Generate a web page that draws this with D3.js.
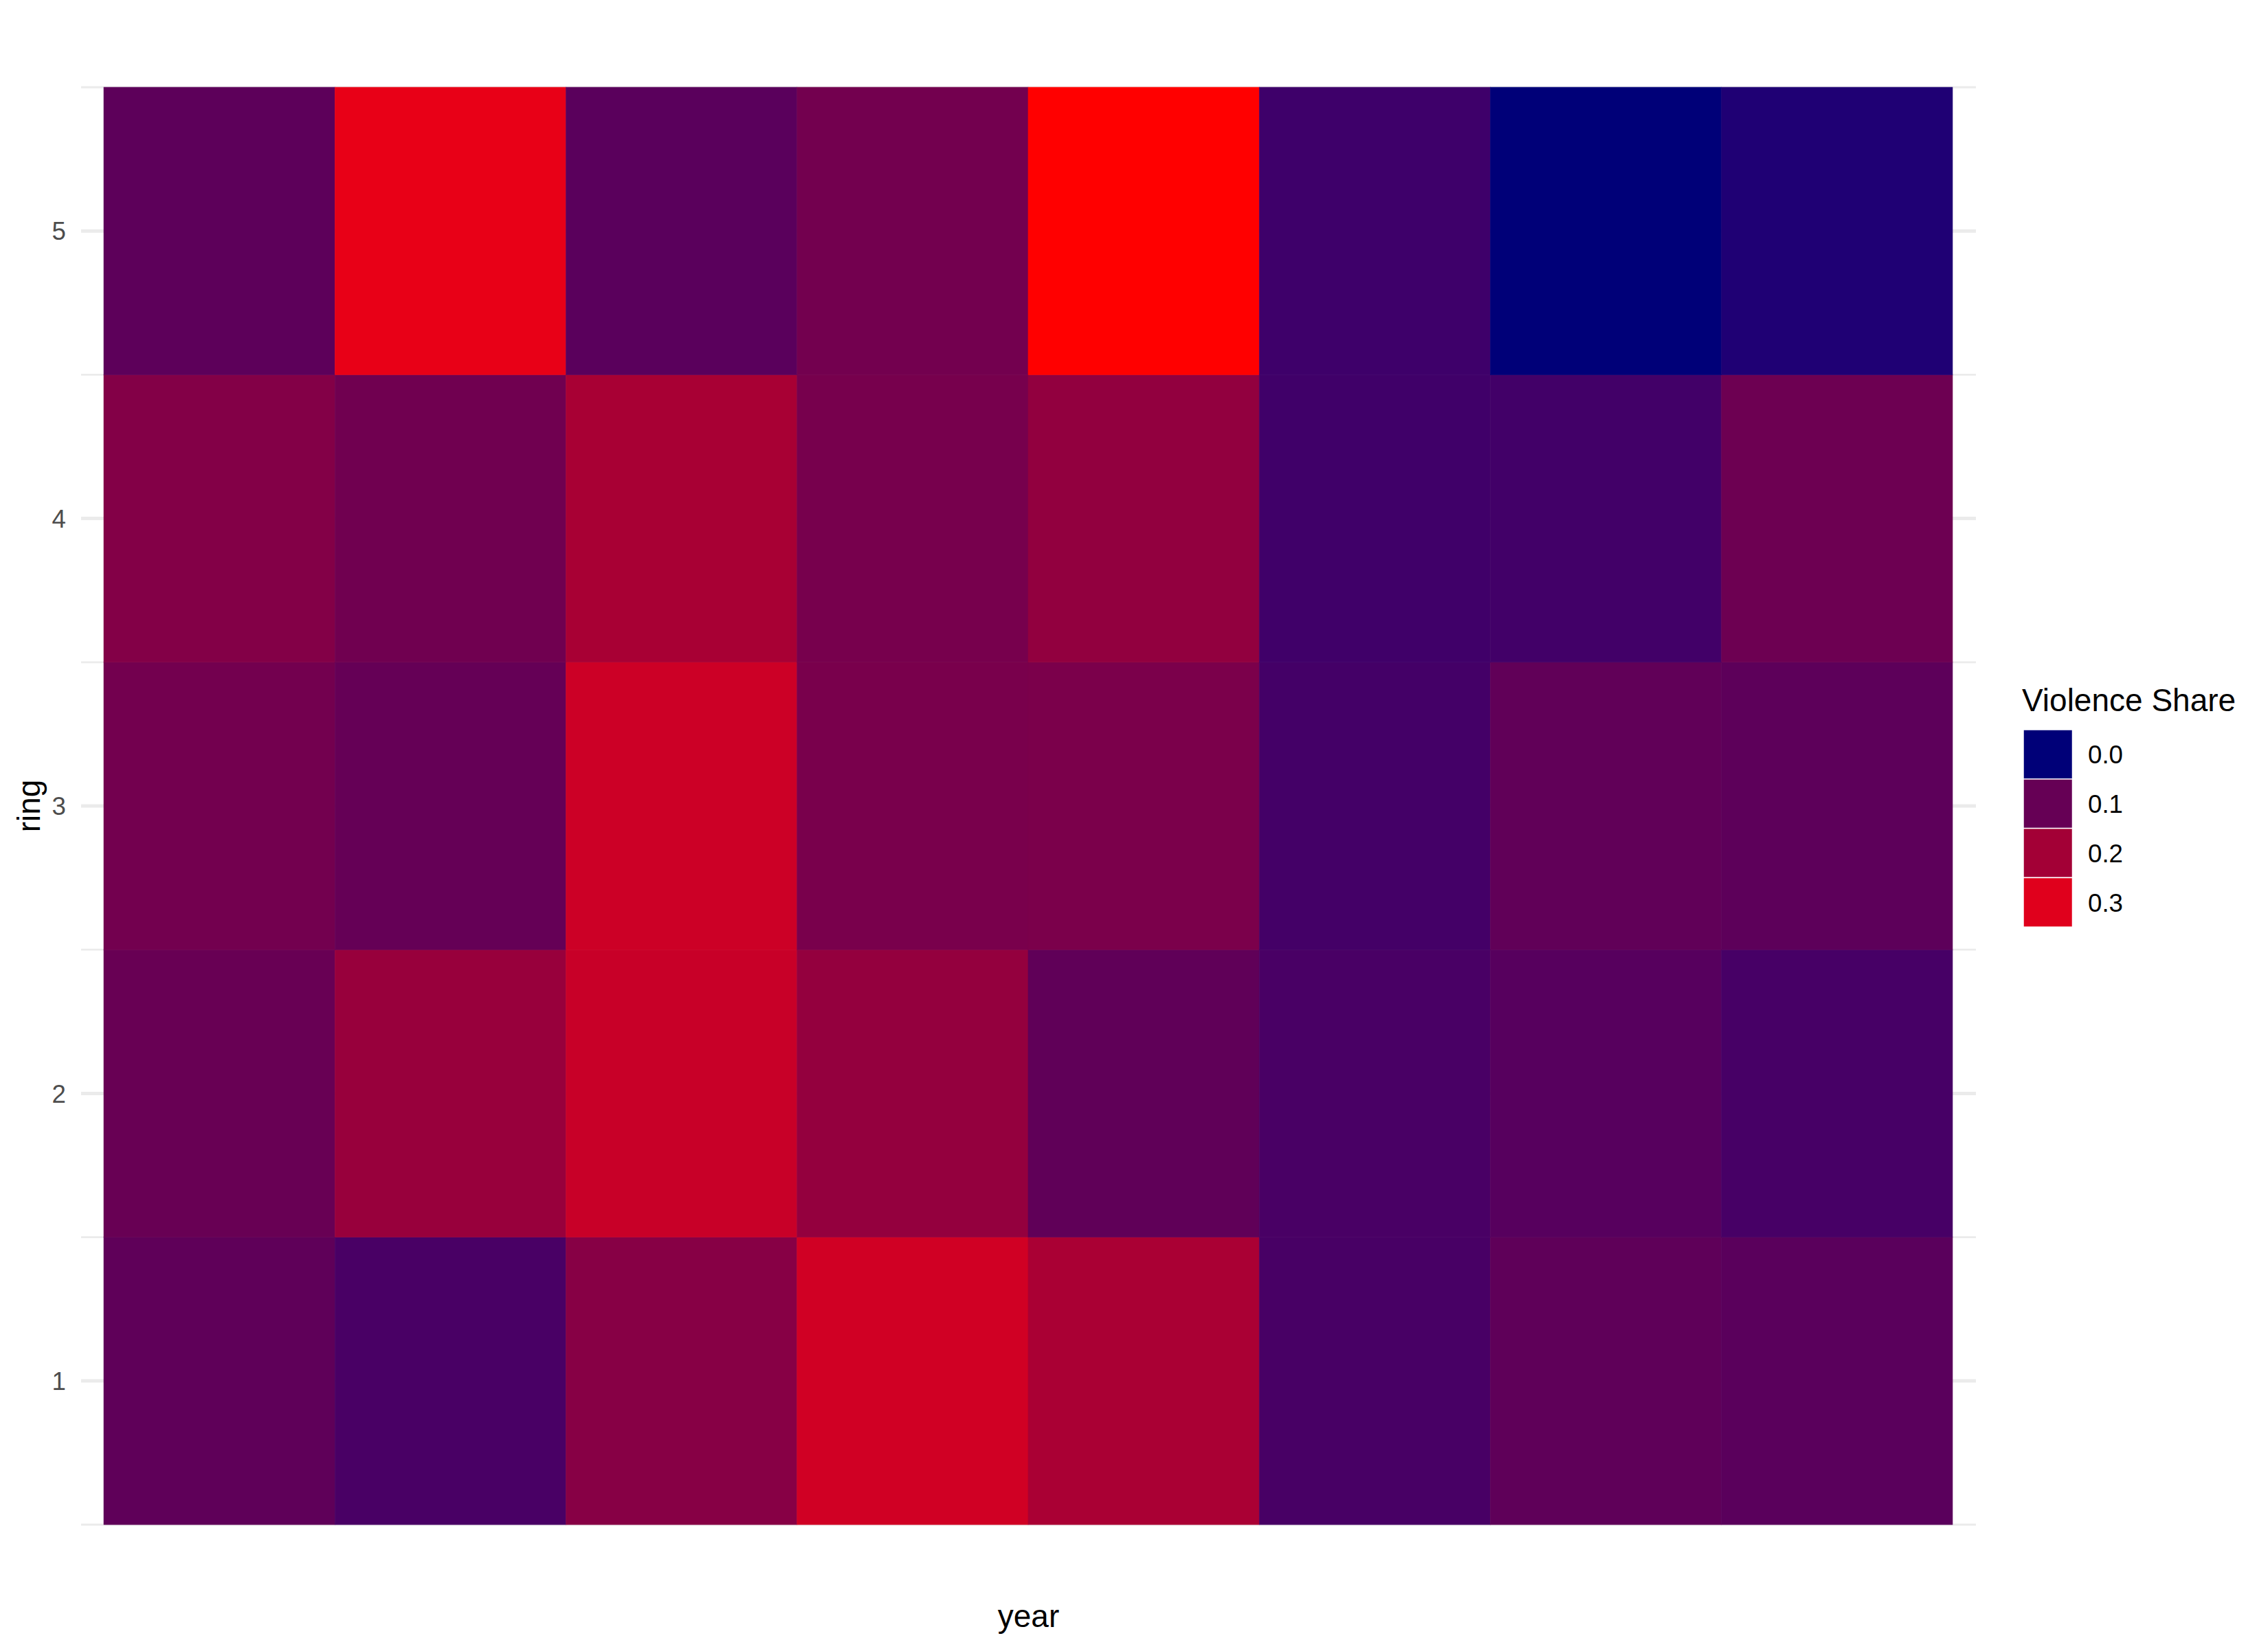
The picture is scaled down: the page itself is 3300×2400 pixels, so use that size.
<!DOCTYPE html>
<html>
<head>
<meta charset="utf-8">
<script src="https://cdn.jsdelivr.net/npm/d3@7"></script>
<style>
  html, body { margin: 0; padding: 0; background: #ffffff; }
  svg { display: block; font-family: "Liberation Sans", Arial, sans-serif; }
</style>
</head>
<body>
<script>
// ---- data ----
const years = ["Y1", "Y2", "Y3", "Y4", "Y5", "Y6", "Y7", "Y8"];
const rings = [1, 2, 3, 4, 5];
// violence share per ring (rows) by year (columns)
const ring1 = [0.088, 0.055, 0.152, 0.274, 0.211, 0.053, 0.088, 0.080];
const ring2 = [0.103, 0.182, 0.261, 0.175, 0.090, 0.055, 0.075, 0.052];
const ring3 = [0.120, 0.098, 0.267, 0.130, 0.133, 0.048, 0.092, 0.085];
const ring4 = [0.146, 0.116, 0.208, 0.126, 0.172, 0.043, 0.045, 0.110];
const ring5 = [0.085, 0.313, 0.080, 0.120, 0.350, 0.040, 0.000, 0.012];
const ringValues = [ring1, ring2, ring3, ring4, ring5];
const legendBreaks = [0.0, 0.1, 0.2, 0.3];
const legendTitle = "Violence Share";
const xTitle = "year";
const yTitle = "ring";

const cells = [];
rings.forEach((r, i) => years.forEach((y, j) => cells.push({ring: r, year: y, value: ringValues[i][j]})));

// ---- layout ----
const W = 3300, H = 2400;
const panel = {left: 118, right: 2875, top: 127, bottom: 2219};
const tileLeft = 151, tileRight = 2841;

const svg = d3.select("body").append("svg").attr("width", W).attr("height", H);

const x = d3.scaleBand().domain(years).range([tileLeft, tileRight]).padding(0);
const y = d3.scaleLinear().domain([0.5, 5.5]).range([panel.bottom, panel.top]);
const vMin = d3.min(cells, d => d.value), vMax = d3.max(cells, d => d.value);
const color = d3.scaleLinear()
  .domain([vMin, 0.1, 0.2, 0.3, vMax])
  .range(["#000078", "#660055", "#a30036", "#e0001c", "#ff0000"])
  .interpolate(d3.interpolateLab);

// grid lines
const grid = svg.append("g");
grid.selectAll("line.minor").data([0.5, 1.5, 2.5, 3.5, 4.5, 5.5]).join("line")
  .attr("x1", panel.left).attr("x2", panel.right)
  .attr("y1", d => y(d)).attr("y2", d => y(d))
  .attr("stroke", "#ebebeb").attr("stroke-width", 2.8);
grid.selectAll("line.major").data(rings).join("line")
  .attr("x1", panel.left).attr("x2", panel.right)
  .attr("y1", d => y(d)).attr("y2", d => y(d))
  .attr("stroke", "#ebebeb").attr("stroke-width", 5);

// tiles
svg.append("g").selectAll("rect").data(cells).join("rect")
  .attr("x", d => x(d.year))
  .attr("y", d => y(d.ring + 0.5))
  .attr("width", x.bandwidth())
  .attr("height", d => y(d.ring - 0.5) - y(d.ring + 0.5))
  .attr("fill", d => color(d.value))
  .attr("stroke", d => color(d.value)).attr("stroke-width", 0.6);

// y axis tick labels
svg.append("g").selectAll("text").data(rings).join("text")
  .attr("x", 96).attr("y", d => y(d))
  .attr("dy", "0.36em")
  .attr("text-anchor", "end")
  .attr("font-size", 36.7).attr("fill", "#4d4d4d")
  .text(d => d);

// axis titles
svg.append("text")
  .attr("x", (panel.left + panel.right) / 2).attr("y", 2368)
  .attr("text-anchor", "middle").attr("font-size", 46).attr("fill", "#000")
  .text(xTitle);
svg.append("text")
  .attr("transform", `translate(58, ${(panel.top + panel.bottom) / 2}) rotate(-90)`)
  .attr("text-anchor", "middle").attr("font-size", 46).attr("fill", "#000")
  .text(yTitle);

// legend
const lg = svg.append("g");
lg.append("text").attr("x", 2942).attr("y", 1035)
  .attr("font-size", 46).attr("fill", "#000").text(legendTitle);
const keyTop = 1062, keyH = 71.8, keyW = 71.5, keyX = 2944;
lg.selectAll("rect").data(legendBreaks).join("rect")
  .attr("x", keyX).attr("y", (d, i) => keyTop + i * keyH)
  .attr("width", keyW).attr("height", keyH)
  .attr("fill", d => color(d))
  .attr("stroke", "#ffffff").attr("stroke-width", 1.5);
lg.selectAll("text.lbl").data(legendBreaks).join("text")
  .attr("class", "lbl")
  .attr("x", 3038).attr("y", (d, i) => keyTop + i * keyH + keyH / 2)
  .attr("dy", "0.36em")
  .attr("font-size", 36.7).attr("fill", "#000")
  .text(d => d3.format(".1f")(d));
</script>
</body>
</html>
